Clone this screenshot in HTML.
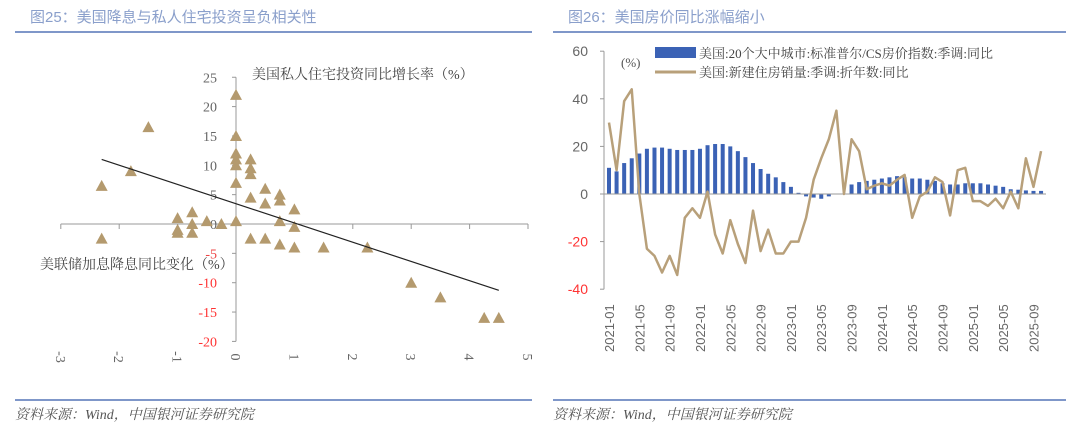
<!DOCTYPE html>
<html><head><meta charset="utf-8"><style>
body{margin:0;background:#fff;width:1080px;height:436px;overflow:hidden;font-family:"Liberation Serif","Noto Serif CJK SC",serif;}
svg{position:absolute;left:0;top:0}
</style></head><body>
<svg id="s" width="1080" height="436" xmlns="http://www.w3.org/2000/svg">
<g font-family="Liberation Sans, Noto Sans CJK SC, sans-serif" font-size="15" fill="#8a9fcb">
<text x="30" y="22">图25：美国降息与私人住宅投资呈负相关性</text>
<text x="568" y="22">图26：美国房价同比涨幅缩小</text>
</g>
<line x1="15" y1="32" x2="532" y2="32" stroke="#7f97c9" stroke-width="2"/>
<line x1="553" y1="32" x2="1066" y2="32" stroke="#7f97c9" stroke-width="2"/>
<line x1="15" y1="400" x2="532" y2="400" stroke="#7f97c9" stroke-width="2"/>
<line x1="553" y1="400" x2="1066" y2="400" stroke="#7f97c9" stroke-width="2"/>
<g font-family="Liberation Serif, Noto Serif CJK SC, serif" font-size="14" font-style="italic" fill="#555">
<text x="15" y="419">资料来源：Wind，中国银河证券研究院</text>
<text x="553" y="419">资料来源：Wind，中国银河证券研究院</text>
</g>
<g id="L"></g><g id="R"></g>
</svg>
<script>
var NS="http://www.w3.org/2000/svg";
function el(p,t,a,txt){var e=document.createElementNS(NS,t);for(var k in a)e.setAttribute(k,a[k]);if(txt!=null)e.textContent=txt;p.appendChild(e);return e;}
var L=document.getElementById('L');
function X(v){return 236+v*58.4;} function Y(v){return 224-v*5.87;}
var f="Liberation Serif, Noto Serif CJK SC, serif";
el(L,'line',{x1:236,y1:Y(25),x2:236,y2:Y(-20),stroke:'#999'});
el(L,'line',{x1:X(-3),y1:224,x2:X(5),y2:224,stroke:'#999'});
for(var v=-20;v<=25;v+=5){el(L,'line',{x1:232,y1:Y(v),x2:236,y2:Y(v),stroke:'#999'});
el(L,'text',{x:217,y:Y(v)+5,'text-anchor':'end','font-size':14,'font-family':f,fill:v<=-10?'#f33':(v==-5?'#e44':'#666')},v);}
for(var v=-3;v<=5;v++){el(L,'line',{x1:X(v),y1:224,x2:X(v),y2:229,stroke:'#999'});
el(L,'text',{x:0,y:0,transform:'translate('+(X(v)-5)+',357) rotate(90)','text-anchor':'middle','font-size':14,'font-family':f,fill:'#666'},v);}
el(L,'text',{x:252,y:79,'font-size':14,'font-family':f,fill:'#444'},'美国私人住宅投资同比增长率（%）');
el(L,'text',{x:40,y:269,'font-size':14,'font-family':f,fill:'#444'},'美联储加息降息同比变化（%）');
var pts=[[-2.3,6.5],[-2.3,-2.5],[-1.8,9],[-1.5,16.5],[-1,1],[-1,-1],[-1,-1.5],[-0.75,2],[-0.75,0],[-0.75,-1.5],[-0.5,0.5],[-0.25,0],[0,22],[0,15],[0,12],[0,11],[0,10],[0,7],[0,0.5],[0.25,11],[0.25,9.5],[0.25,8.5],[0.25,4.5],[0.25,-2.5],[0.5,6],[0.5,3.5],[0.5,-2.5],[0.75,5],[0.75,4],[0.75,0.5],[0.75,-3.5],[1,2.5],[1,-0.5],[1,-4],[1.5,-4],[2.25,-4],[3,-10],[3.5,-12.5],[4.25,-16],[4.5,-16]];
pts.forEach(function(p){var x=X(p[0]),y=Y(p[1]);el(L,'polygon',{points:(x-6)+','+(y+5)+' '+(x+6)+','+(y+5)+' '+x+','+(y-6),fill:'#b49a6e'});});
el(L,'line',{x1:X(-2.3),y1:Y(11),x2:X(4.5),y2:Y(-11.3),stroke:'#222','stroke-width':1.2});

var R=document.getElementById('R');
function YY(v){return 194-v*2.38;} function XX(i){return 609+i*7.58;}
el(R,'line',{x1:604,y1:YY(60),x2:604,y2:YY(-40),stroke:'#999'});
for(var v=-40;v<=60;v+=20){el(R,'line',{x1:600,y1:YY(v),x2:604,y2:YY(v),stroke:'#999'});
el(R,'text',{x:588,y:YY(v)+5,'text-anchor':'end','font-size':14,'font-family':'Liberation Sans, sans-serif',fill:v<0?'#f33':'#666'},v);}
var bars=[11,9.5,13,15,17,19,19.5,19.5,19,18.5,18.5,18.5,19,20.5,21,21,20,18,15.5,13,10.5,8.5,7,5,3,0.5,-1,-1.5,-2,-1,0,0.2,4,5,5.5,6,6.5,7,7.5,7,6.5,6.5,6,5.5,4.5,4,4,4.5,4.5,4.5,4,3.5,3,2,1.8,1.5,1.3,1.3];
bars.forEach(function(b,i){var y=YY(Math.max(b,0)),h=Math.abs(b)*2.38;el(R,'rect',{x:XX(i)-2,y:y,width:4,height:Math.max(h,0.5),fill:'#3b62b5'});});
el(R,'line',{x1:604,y1:194,x2:1046,y2:194,stroke:'#999'});
var line=[30,10,39,44,0,-23,-26,-33,-26,-34,-10,-6,-10,1,-17,-25,-11,-21,-29,-7,-24,-15,-25,-25,-20,-20,-10,6,15,23,35,0,23,18,2,3.5,4.5,3.5,6,8,-10,-1,1,7,5,-9,10,11,-3,-3,-5,-2,-6,1,-6,15,3,18];
el(R,'polyline',{points:line.map(function(v,i){return XX(i)+','+YY(v)}).join(' '),fill:'none',stroke:'#b8a07a','stroke-width':2.5,'stroke-linejoin':'round'});
for(var i=0;i<=56;i+=4){var yr=2021+Math.floor(i/12),m=i%12+1;
el(R,'text',{x:0,y:0,transform:'translate('+(XX(i)+5)+',352) rotate(-90)','font-size':13,'font-family':'Liberation Sans, sans-serif',fill:'#666'},yr+'-'+(m<10?'0':'')+m);}
el(R,'text',{x:621,y:67,'font-size':13,'font-family':f,fill:'#555'},'(%)');
el(R,'rect',{x:655,y:47,width:41,height:11,fill:'#3b62b5'});
el(R,'line',{x1:655,y1:72,x2:696,y2:72,stroke:'#b8a07a','stroke-width':3});
el(R,'text',{x:699,y:58,'font-size':13,'font-family':f,fill:'#444'},'美国:20个大中城市:标准普尔/CS房价指数:季调:同比');
el(R,'text',{x:699,y:77,'font-size':13,'font-family':f,fill:'#444'},'美国:新建住房销量:季调:折年数:同比');
</script>
</body></html>
